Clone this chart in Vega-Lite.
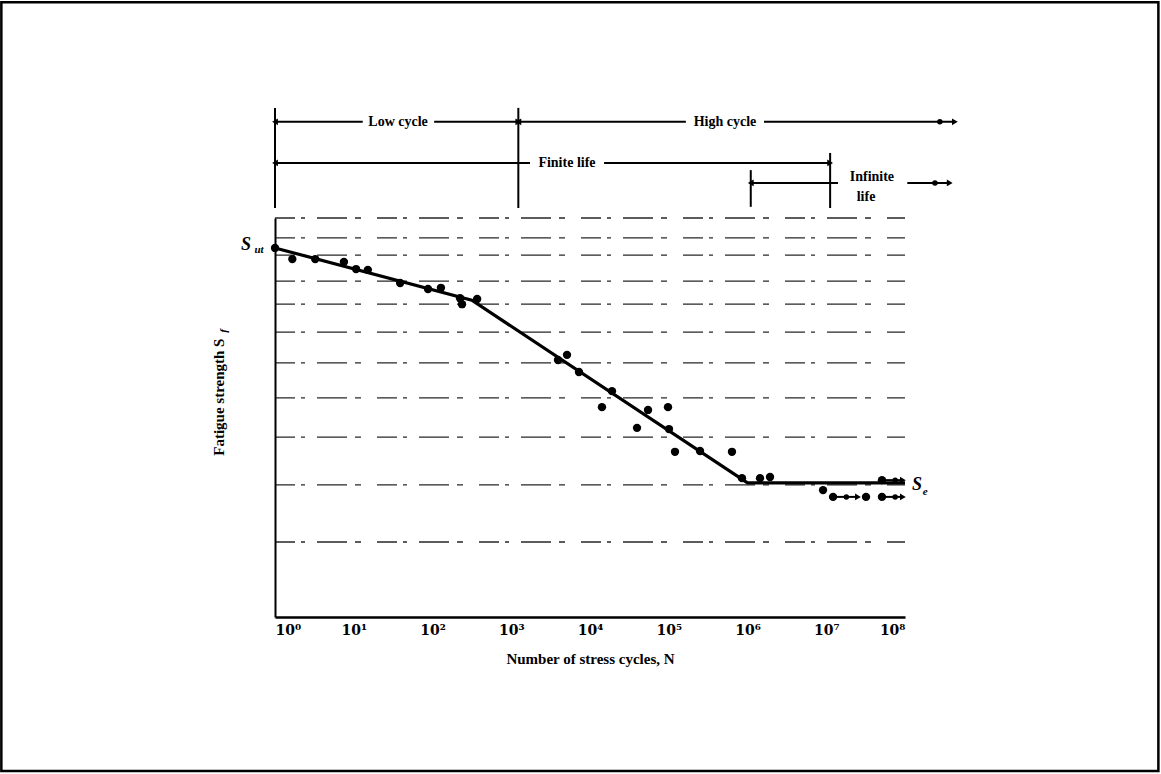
{
  "$schema": "https://vega.github.io/schema/vega-lite/v6.json",
  "width": 630,
  "height": 399,
  "autosize": {"type": "none"},
  "padding": {"left": 275, "top": 218, "right": 256, "bottom": 157},
  "background": "white",
  "config": {"view": {"stroke": null}, "font": "Liberation Serif"},
  "datasets": {
    "frame": [{"N": 0.000335, "N2": 165000000000, "S": 154.1, "S2": -38.6}],
    "tests": [
      {"N": 1, "S": 92.5}, {"N": 1.66, "S": 89.7}, {"N": 3.24, "S": 89.7},
      {"N": 7.5, "S": 89.0}, {"N": 10.7, "S": 87.2}, {"N": 15.1, "S": 87.0},
      {"N": 38.8, "S": 83.7}, {"N": 87.7, "S": 82.2}, {"N": 128, "S": 82.5},
      {"N": 224, "S": 79.9}, {"N": 237, "S": 78.4}, {"N": 369, "S": 79.7},
      {"N": 3926, "S": 64.4}, {"N": 5105, "S": 65.7}, {"N": 7244, "S": 61.4},
      {"N": 14190, "S": 52.6}, {"N": 19010, "S": 56.6}, {"N": 39530, "S": 47.4},
      {"N": 54560, "S": 51.9}, {"N": 97800, "S": 52.6}, {"N": 100700, "S": 47.1},
      {"N": 120000, "S": 41.4}, {"N": 249400, "S": 41.6}, {"N": 635000, "S": 41.4},
      {"N": 851000, "S": 34.8}, {"N": 1442000, "S": 34.8}, {"N": 1931000, "S": 35.1},
      {"N": 9100000, "S": 31.8}, {"N": 12200000, "S": 30.1}, {"N": 32000000, "S": 30.1},
      {"N": 51000000, "S": 34.3}, {"N": 51000000, "S": 30.1}
    ],
    "curve": [
      {"N": 1, "S": 92.5}, {"N": 316, "S": 79.4}, {"N": 1000000, "S": 33.6}, {"N": 100000000, "S": 33.6}
    ],
    "gridlines": [
      {"N": 1, "N2": 100000000, "S": 100}, {"N": 1, "N2": 100000000, "S": 95.0},
      {"N": 1, "N2": 100000000, "S": 90.7}, {"N": 1, "N2": 100000000, "S": 84.2},
      {"N": 1, "N2": 100000000, "S": 78.4}, {"N": 1, "N2": 100000000, "S": 71.4},
      {"N": 1, "N2": 100000000, "S": 63.7}, {"N": 1, "N2": 100000000, "S": 54.9},
      {"N": 1, "N2": 100000000, "S": 45.1}, {"N": 1, "N2": 100000000, "S": 33.1},
      {"N": 1, "N2": 100000000, "S": 18.8}
    ],
    "segments": [
      {"N": 1, "N2": 1, "S": 127.6, "S2": 102.5},
      {"N": 1230, "N2": 1230, "S": 127.6, "S2": 102.5},
      {"N": 1100000, "N2": 1100000, "S": 112.0, "S2": 102.8},
      {"N": 11200000, "N2": 11200000, "S": 116.3, "S2": 102.5},
      {"N": 1, "N2": 13, "S": 124.1, "S2": 124.1},
      {"N": 105, "N2": 1230, "S": 124.1, "S2": 124.1},
      {"N": 1230, "N2": 165000, "S": 124.1, "S2": 124.1},
      {"N": 1620000, "N2": 430000000, "S": 124.1, "S2": 124.1},
      {"N": 1, "N2": 1730, "S": 113.8, "S2": 113.8},
      {"N": 15100, "N2": 11200000, "S": 113.8, "S2": 113.8},
      {"N": 1100000, "N2": 14100000, "S": 108.8, "S2": 108.8},
      {"N": 107000000, "N2": 370000000, "S": 108.8, "S2": 108.8},
      {"N": 12200000, "N2": 25300000, "S": 30.1, "S2": 30.1},
      {"N": 51000000, "N2": 94000000, "S": 34.3, "S2": 34.3},
      {"N": 51000000, "N2": 94000000, "S": 30.1, "S2": 30.1}
    ],
    "heads": [
      {"N": 1, "S": 124.1, "dir": "left"}, {"N": 1230, "S": 124.1, "dir": "right"},
      {"N": 1230, "S": 124.1, "dir": "left"}, {"N": 430000000, "S": 124.1, "dir": "right"},
      {"N": 1, "S": 113.8, "dir": "left"}, {"N": 11200000, "S": 113.8, "dir": "right"},
      {"N": 1100000, "S": 108.8, "dir": "left"}, {"N": 370000000, "S": 108.8, "dir": "right"},
      {"N": 25300000, "S": 30.1, "dir": "right"}, {"N": 94000000, "S": 34.3, "dir": "right"},
      {"N": 94000000, "S": 30.1, "dir": "right"}
    ],
    "dots": [
      {"N": 277000000, "S": 124.1}, {"N": 240000000, "S": 108.8}, {"N": 18000000, "S": 30.1},
      {"N": 75000000, "S": 30.1}, {"N": 75000000, "S": 34.3}
    ],
    "notes": [
      {"N": 36.5, "S": 124.1, "t": "Low cycle"},
      {"N": 518000, "S": 124.1, "t": "High cycle"},
      {"N": 5100, "S": 113.8, "t": "Finite life"},
      {"N": 38000000, "S": 110.3, "t": "Infinite"},
      {"N": 32000000, "S": 105.3, "t": "life"}
    ],
    "sym": [
      {"N": 0.428, "S": 93.2, "t": "S"},
      {"N": 142000000, "S": 33.1, "t": "S"}
    ],
    "subs": [
      {"N": 0.626, "S": 92.0, "t": "ut"},
      {"N": 180000000, "S": 31.3, "t": "e"}
    ],
    "ytitle": [{"N": 0.194, "S": 55.1, "t": "Fatigue strength S"}],
    "ysub": [{"N": 0.225, "S": 71.7, "t": "f"}]
  },
  "encoding": {
    "x": {
      "field": "N", "type": "quantitative",
      "scale": {"type": "log", "domain": [1, 100000000], "nice": false},
      "axis": {
        "values": [1, 10, 100, 1000, 10000, 100000, 1000000, 10000000, 100000000],
        "labelExpr": "'10' + ['⁰','¹','²','³','⁴','⁵','⁶','⁷','⁸'][round(log(datum.value)/LN10)]",
        "ticks": false, "grid": false,
        "domainColor": "black", "domainWidth": 2.5,
        "labelFont": "DejaVu Serif", "labelFontSize": 14, "labelColor": "black", "labelPadding": 6,
        "labelFontWeight": "bold",
        "title": "Number of stress cycles, N",
        "titleFont": "Liberation Serif", "titleFontSize": 15, "titleFontWeight": "bold",
        "titleColor": "black", "titlePadding": 14
      }
    },
    "y": {
      "field": "S", "type": "quantitative",
      "scale": {"domain": [0, 100], "nice": false, "zero": false},
      "axis": {"labels": false, "ticks": false, "grid": false, "title": null,
               "domainColor": "black", "domainWidth": 2}
    }
  },
  "layer": [
    {
      "data": {"name": "frame"},
      "mark": {"type": "rect", "fillOpacity": 0, "fill": "white", "stroke": "black", "strokeWidth": 2.5},
      "encoding": {
        "x2": {"field": "N2"},
        "y2": {"field": "S2"}
      }
    },
    {
      "data": {"name": "gridlines"},
      "mark": {"type": "rule", "stroke": "black", "strokeWidth": 1.3,
               "strokeDash": [20, 6, 4, 12, 30, 8, 6, 16], "opacity": 0.85},
      "encoding": {
        "x2": {"field": "N2"}
      }
    },
    {
      "data": {"name": "segments"},
      "mark": {"type": "rule", "stroke": "black", "strokeWidth": 2},
      "encoding": {
        "x2": {"field": "N2"},
        "y2": {"field": "S2"}
      }
    },
    {
      "data": {"name": "heads"},
      "mark": {"type": "point", "filled": true, "color": "black", "size": 45, "opacity": 1},
      "encoding": {
        "shape": {"field": "dir", "type": "nominal",
                  "scale": {"domain": ["left", "right"], "range": ["triangle-left", "triangle-right"]},
                  "legend": null}
      }
    },
    {
      "data": {"name": "dots"},
      "mark": {"type": "circle", "color": "black", "size": 30, "opacity": 1}
    },
    {
      "data": {"name": "curve"},
      "mark": {"type": "line", "color": "black", "strokeWidth": 3.2}
    },
    {
      "data": {"name": "tests"},
      "mark": {"type": "circle", "color": "black", "size": 70, "opacity": 1}
    },
    {
      "data": {"name": "notes"},
      "mark": {"type": "text", "font": "Liberation Serif", "fontSize": 14, "fontWeight": "bold",
               "color": "black", "align": "center", "baseline": "middle"},
      "encoding": {"text": {"field": "t"}}
    },
    {
      "data": {"name": "sym"},
      "mark": {"type": "text", "font": "Liberation Serif", "fontSize": 18, "fontWeight": "bold",
               "fontStyle": "italic", "color": "black", "align": "center", "baseline": "middle"},
      "encoding": {"text": {"field": "t"}}
    },
    {
      "data": {"name": "subs"},
      "mark": {"type": "text", "font": "Liberation Serif", "fontSize": 11, "fontWeight": "bold",
               "fontStyle": "italic", "color": "black", "align": "center", "baseline": "middle"},
      "encoding": {"text": {"field": "t"}}
    },
    {
      "data": {"name": "ytitle"},
      "mark": {"type": "text", "font": "Liberation Serif", "fontSize": 15, "fontWeight": "bold",
               "color": "black", "align": "center", "baseline": "middle", "angle": 270},
      "encoding": {"text": {"field": "t"}}
    },
    {
      "data": {"name": "ysub"},
      "mark": {"type": "text", "font": "Liberation Serif", "fontSize": 11, "fontWeight": "bold",
               "fontStyle": "italic", "color": "black", "align": "center", "baseline": "middle", "angle": 270},
      "encoding": {"text": {"field": "t"}}
    }
  ]
}
